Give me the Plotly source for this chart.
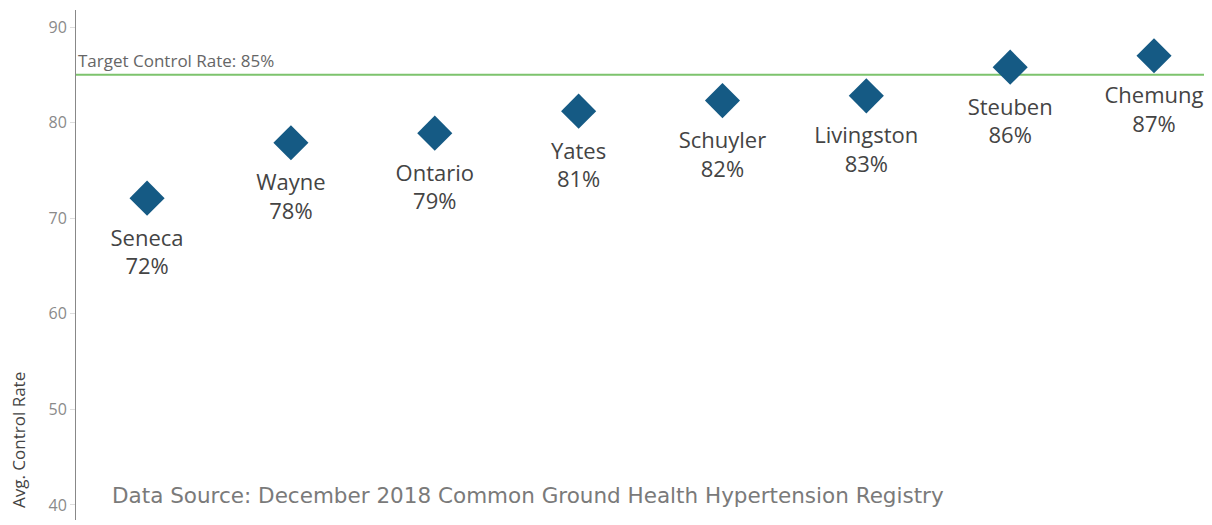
import plotly.graph_objects as go

counties = ['Seneca', 'Wayne', 'Ontario', 'Yates', 'Schuyler', 'Livingston', 'Steuben', 'Chemung']
control_rate = [72.1, 77.9, 78.9, 81.2, 82.3, 82.8, 85.8, 87.0]
pct_labels = ['72%', '78%', '79%', '81%', '82%', '83%', '86%', '87%']
target_rate = 85
y_ticks = [40, 50, 60, 70, 80, 90]

FONT = 'Open Sans, DejaVu Sans, sans-serif'

# page body has an 8px margin, so the figure is a bit smaller than the window
W, H = 1204, 517
L, T, B = 68, 2, 5
PW, PH = W - L, H - T - B

x_idx = list(range(len(counties)))

fig = go.Figure()

fig.add_trace(go.Scatter(
    x=x_idx, y=control_rate,
    mode='markers',
    marker=dict(symbol='diamond', size=27, color='#155a84'),
    hoverinfo='skip', showlegend=False,
))

# labels: invisible bigger marker pushes the text a bit further down
fig.add_trace(go.Scatter(
    x=x_idx, y=control_rate,
    mode='markers+text',
    marker=dict(size=48, color='rgba(0,0,0,0)'),
    text=[f'{c}<br>{p}' for c, p in zip(counties, pct_labels)],
    textposition='bottom center',
    textfont=dict(size=22, color='#444444', family=FONT),
    cliponaxis=False,
    hoverinfo='skip', showlegend=False,
))

fig.add_hline(y=target_rate, line=dict(color='#7dc36d', width=2), layer='below')

fig.add_annotation(
    x=0, xref='paper', y=target_rate, yref='y',
    text=f'Target Control Rate: {target_rate}%',
    showarrow=False, xanchor='left', yanchor='bottom', xshift=0, yshift=1,
    font=dict(size=17, color='#666666', family=FONT),
)

fig.add_annotation(
    x=(110 - 76) / PW, xref='paper', y=(PH - (495 - 10)) / PH, yref='paper',
    text='Data Source: December 2018 Common Ground Health Hypertension Registry',
    showarrow=False, xanchor='left', yanchor='middle',
    font=dict(size=21.5, color='#7a7a7a', family='DejaVu Sans, sans-serif'),
)

fig.add_annotation(
    x=(18 - 76) / PW, xref='paper', y=(PH - (440 - 10)) / PH, yref='paper',
    text='Avg. Control Rate', textangle=-90,
    showarrow=False, xanchor='center', yanchor='middle',
    font=dict(size=17, color='#444444', family=FONT),
)

fig.update_layout(
    width=W, height=H,
    paper_bgcolor='white', plot_bgcolor='white',
    margin=dict(l=L, r=0, t=T, b=B, pad=0),
    font=dict(family=FONT),
    xaxis=dict(
        range=[-0.494, 7.403], showgrid=False, zeroline=False,
        showticklabels=False, showline=False, ticks='',
    ),
    yaxis=dict(
        range=[38.43, 91.78], tickvals=y_ticks, showgrid=False, zeroline=False,
        showline=True, linecolor='#888888', linewidth=1,
        ticks='outside', ticklen=5, tickcolor='#dddddd',
        tickfont=dict(size=16, color='#8a8a8a', family=FONT),
    ),
)

fig.write_html('out.html')
